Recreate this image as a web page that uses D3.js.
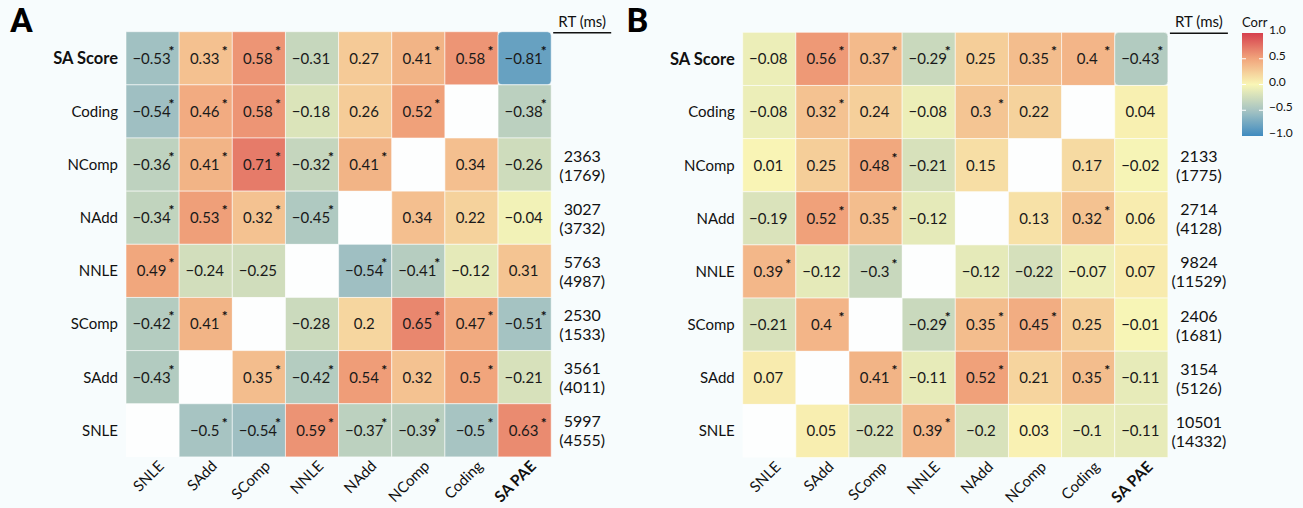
<!DOCTYPE html>
<html>
<head>
<meta charset="utf-8">
<script src="https://cdn.jsdelivr.net/npm/d3@7"></script>
<style>
  body { margin: 0; background: #f7fcfd; }
  svg { font-family: Lato, 'Open Sans', sans-serif; }
</style>
</head>
<body>
<div id="graf"></div>
<script>
const rows = ['SA Score', 'Coding', 'NComp', 'NAdd', 'NNLE', 'SComp', 'SAdd', 'SNLE']
const cols = ['SNLE', 'SAdd', 'SComp', 'NNLE', 'NAdd', 'NComp', 'Coding', 'SA PAE']

// null = blank cell
const valuesA = [
  [-0.53, 0.33, 0.58, -0.31, 0.27, 0.41, 0.58, -0.81],
  [-0.54, 0.46, 0.58, -0.18, 0.26, 0.52, null, -0.38],
  [-0.36, 0.41, 0.71, -0.32, 0.41, null, 0.34, -0.26],
  [-0.34, 0.53, 0.32, -0.45, null, 0.34, 0.22, -0.04],
  [0.49, -0.24, -0.25, null, -0.54, -0.41, -0.12, 0.31],
  [-0.42, 0.41, null, -0.28, 0.2, 0.65, 0.47, -0.51],
  [-0.43, null, 0.35, -0.42, 0.54, 0.32, 0.5, -0.21],
  [null, -0.5, -0.54, 0.59, -0.37, -0.39, -0.5, 0.63],
]
const sigA = [
  [1, 1, 1, 0, 0, 1, 1, 1],
  [1, 1, 1, 0, 0, 1, 0, 1],
  [1, 1, 1, 1, 1, 0, 0, 0],
  [1, 1, 1, 1, 0, 0, 0, 0],
  [1, 0, 0, 0, 1, 1, 0, 0],
  [1, 1, 0, 0, 0, 1, 1, 1],
  [1, 0, 1, 1, 1, 0, 1, 0],
  [0, 1, 1, 1, 1, 1, 1, 1],
]
const valuesB = [
  [-0.08, 0.56, 0.37, -0.29, 0.25, 0.35, 0.4, -0.43],
  [-0.08, 0.32, 0.24, -0.08, 0.3, 0.22, null, 0.04],
  [0.01, 0.25, 0.48, -0.21, 0.15, null, 0.17, -0.02],
  [-0.19, 0.52, 0.35, -0.12, null, 0.13, 0.32, 0.06],
  [0.39, -0.12, -0.3, null, -0.12, -0.22, -0.07, 0.07],
  [-0.21, 0.4, null, -0.29, 0.35, 0.45, 0.25, -0.01],
  [0.07, null, 0.41, -0.11, 0.52, 0.21, 0.35, -0.11],
  [null, 0.05, -0.22, 0.39, -0.2, 0.03, -0.1, -0.11],
]
const sigB = [
  [0, 1, 1, 1, 0, 1, 1, 1],
  [0, 1, 0, 0, 1, 0, 0, 0],
  [0, 0, 1, 0, 0, 0, 0, 0],
  [0, 1, 1, 0, 0, 0, 1, 0],
  [1, 0, 1, 0, 0, 0, 0, 0],
  [0, 1, 0, 1, 1, 1, 0, 0],
  [0, 0, 1, 0, 1, 0, 1, 0],
  [0, 0, 0, 1, 0, 0, 0, 0],
]
const rtA = [null, null, ['2363', '(1769)'], ['3027', '(3732)'], ['5763', '(4987)'],
  ['2530', '(1533)'], ['3561', '(4011)'], ['5997', '(4555)']]
const rtB = [null, null, ['2133', '(1775)'], ['2714', '(4128)'], ['9824', '(11529)'],
  ['2406', '(1681)'], ['3154', '(5126)'], ['10501', '(14332)']]
const legendTicks = [1, 0.5, 0, -0.5, -1]

const anchoTotal = 1303
const altoTotal = 508
const cell = 53.15

const svg = d3.select('#graf')
  .append('svg')
  .attr('width', anchoTotal)
  .attr('height', altoTotal)

const color = d3.scaleLinear()
  .domain([-1, -0.5, 0, 0.5, 1])
  .range(['#3f8bc0', '#a7c4c2', '#f9f6b6', '#f1a57c', '#d6404e'])
  .clamp(true)

const fmt = v => String(v).replace('-', '\u2212')

function panel(letter, left, top, values, sig, rt) {
  const g = svg.append('g').attr('transform', `translate(${left}, ${top})`)

  const x = d3.scaleBand().domain(cols).range([0, cell * cols.length])
  const y = d3.scaleBand().domain(rows).range([0, cell * rows.length])

  const data = []
  rows.forEach((r, i) => cols.forEach((c, j) => {
    data.push({ r, c, v: values[i][j], s: sig[i][j], corner: i === 0 && j === cols.length - 1 })
  }))

  g.selectAll('rect.cell')
    .data(data)
    .enter()
    .append('rect')
      .attr('class', 'cell')
      .attr('x', d => x(d.c))
      .attr('y', d => y(d.r))
      .attr('width', x.bandwidth())
      .attr('height', y.bandwidth())
      .attr('rx', d => d.corner ? 4 : 0)
      .attr('fill', d => d.v === null ? '#fdfefe' : color(d.v))
      .attr('stroke', d => d.v === null ? 'none' : 'rgba(255,255,255,0.55)')
      .attr('stroke-width', 1)

  const filled = data.filter(d => d.v !== null)

  g.selectAll('text.val')
    .data(filled)
    .enter()
    .append('text')
      .attr('x', d => x(d.c) + x.bandwidth() / 2 - 1)
      .attr('y', d => y(d.r) + y.bandwidth() / 2)
      .attr('dy', '0.36em')
      .attr('text-anchor', 'middle')
      .attr('font-size', 15)
      .attr('fill', '#1a1a1a')
      .text(d => fmt(d.v))

  g.selectAll('text.star')
    .data(filled.filter(d => d.s))
    .enter()
    .append('text')
      .attr('x', d => x(d.c) + x.bandwidth() / 2 + 19)
      .attr('y', d => y(d.r) + 24)
      .attr('text-anchor', 'middle')
      .attr('font-size', 14)
      .attr('font-weight', 'bold')
      .attr('fill', '#111')
      .text('*')

  // row labels
  g.selectAll('text.row')
    .data(rows)
    .enter()
    .append('text')
      .attr('x', -8)
      .attr('y', d => y(d) + y.bandwidth() / 2)
      .attr('dy', '0.36em')
      .attr('text-anchor', 'end')
      .attr('font-size', d => d === 'SA Score' ? 16.5 : 15)
      .attr('font-weight', d => d === 'SA Score' ? 'bold' : 'normal')
      .attr('fill', '#111')
      .text(d => d)

  // column labels
  const alto = cell * rows.length
  g.selectAll('text.col')
    .data(cols)
    .enter()
    .append('text')
      .attr('transform', d => `translate(${x(d) + x.bandwidth() / 2 + 8}, ${alto + 6}) rotate(-45)`)
      .attr('text-anchor', 'end')
      .attr('dy', '0.4em')
      .attr('font-size', d => d === 'SA PAE' ? 15.5 : 15)
      .attr('font-weight', d => d === 'SA PAE' ? 'bold' : 'normal')
      .attr('fill', '#111')
      .text(d => d)

  // RT column
  const rtX = cell * cols.length + 31
  g.append('text')
    .attr('x', rtX)
    .attr('y', -5)
    .attr('text-anchor', 'middle')
    .attr('font-size', 15)
    .attr('fill', '#111')
    .text('RT (ms)')
  g.append('line')
    .attr('x1', rtX - 29).attr('x2', rtX + 29)
    .attr('y1', 1).attr('y2', 1)
    .attr('stroke', '#111')
    .attr('stroke-width', 1.5)

  const rtG = g.selectAll('g.rt')
    .data(rows.map((r, i) => ({ r, t: rt[i] })).filter(d => d.t))
    .enter()
    .append('text')
      .attr('text-anchor', 'middle')
      .attr('font-size', 16)
      .attr('fill', '#111')
  rtG.append('tspan')
    .attr('x', rtX)
    .attr('y', d => y(d.r) + y.bandwidth() / 2 - 3)
    .text(d => d.t[0])
  rtG.append('tspan')
    .attr('x', rtX)
    .attr('y', d => y(d.r) + y.bandwidth() / 2 + 16)
    .text(d => d.t[1])

  svg.append('text')
    .attr('x', left - 116)
    .attr('y', 32)
    .attr('font-size', 34)
    .attr('font-weight', 'bold')
    .attr('font-family', 'Roboto, Lato, sans-serif')
    .attr('fill', '#000')
    .text(letter)
}

panel('A', 126, 31.7, valuesA, sigA, rtA)
panel('B', 742.7, 32.3, valuesB, sigB, rtB)

// legend
const lg = svg.append('g').attr('transform', 'translate(1242, 33)')
const barH = 103
const ly = d3.scaleLinear().domain([1, -1]).range([0, barH])

const grad = svg.append('defs').append('linearGradient')
  .attr('id', 'grad')
  .attr('x1', 0).attr('x2', 0).attr('y1', 0).attr('y2', 1)
grad.selectAll('stop')
  .data(d3.range(0, 21).map(i => 1 - i / 10))
  .enter()
  .append('stop')
    .attr('offset', d => (1 - d) / 2)
    .attr('stop-color', d => color(d))

lg.append('rect')
  .attr('width', 21)
  .attr('height', barH)
  .attr('fill', 'url(#grad)')

lg.selectAll('g.tk')
  .data([0.5, 0, -0.5])
  .enter()
  .append('g')
  .each(function (d) {
    d3.select(this).append('line')
      .attr('x1', 0).attr('x2', 4).attr('y1', ly(d)).attr('y2', ly(d))
      .attr('stroke', 'white').attr('stroke-width', 1)
    d3.select(this).append('line')
      .attr('x1', 17).attr('x2', 21).attr('y1', ly(d)).attr('y2', ly(d))
      .attr('stroke', 'white').attr('stroke-width', 1)
  })

lg.selectAll('text.tick')
  .data(legendTicks)
  .enter()
  .append('text')
    .attr('x', 27)
    .attr('y', d => ly(d))
    .attr('dy', '0.1em')
    .attr('font-size', 12)
    .attr('fill', '#111')
    .text(d => d3.format('.1f')(d))

lg.append('text')
  .attr('x', 0)
  .attr('y', -6)
  .attr('font-size', 13)
  .attr('fill', '#111')
  .text('Corr')
</script>
</body>
</html>
